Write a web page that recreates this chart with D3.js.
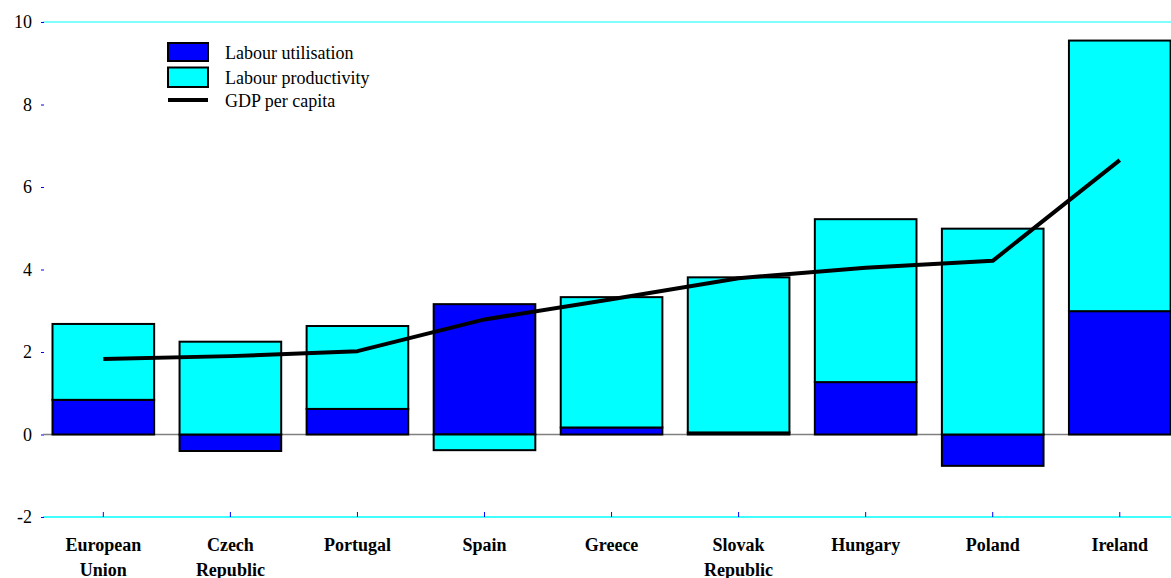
<!DOCTYPE html>
<html><head><meta charset="utf-8">
<script src="https://cdn.jsdelivr.net/npm/d3@7"></script>
<style>body{margin:0;background:#fff;overflow:hidden}svg{display:block}
svg text{font-family:"Liberation Serif","Times New Roman",Times,serif !important;}</style>
</head><body><svg id="c" width="1171" height="578"></svg>
<script>
const categories = [["European","Union"],["Czech","Republic"],["Portugal"],["Spain"],["Greece"],["Slovak","Republic"],["Hungary"],["Poland"],["Ireland"]];
const labourUtilisation = [0.84,-0.40,0.62,3.16,0.17,0.05,1.27,-0.76,2.99];
const labourProductivity = [1.84,2.25,2.01,-0.38,3.16,3.76,3.95,4.99,6.56];
const gdpPerCapita = [1.83,1.90,2.02,2.79,3.28,3.79,4.04,4.21,6.65];
const yTicks = [-2,0,2,4,6,8,10];
const seriesNames = ["Labour utilisation","Labour productivity","GDP per capita"];

const svg = d3.select("#c");
const keys = categories.map(c=>c.join(" "));
const x = d3.scaleBand().domain(keys).range([39.8,1183.3]).paddingInner(0.2).paddingOuter(0.1);
const y = d3.scaleLinear().domain([-2,10]).range([517,22]);
const W = 1171;

svg.append("line").attr("x1",43).attr("x2",W).attr("y1",y(10)).attr("y2",y(10)).attr("stroke","#00FFFF").attr("stroke-width",1);
svg.append("line").attr("x1",43).attr("x2",W).attr("y1",y(-2)).attr("y2",y(-2)).attr("stroke","#00FFFF").attr("stroke-width",1.5);

const yAxis = d3.axisLeft(y).tickValues(yTicks).tickSize(3).tickPadding(9).tickFormat(d=>String(d));
const gy = svg.append("g").attr("transform","translate(44,0)").call(yAxis);
gy.select(".domain").remove();
gy.selectAll(".tick line").attr("stroke","#0000FF");
gy.selectAll(".tick text").attr("font-size",18).attr("fill","#000");

const xAxis = d3.axisTop(x).tickSize(5).tickFormat("");
const gx = svg.append("g").attr("transform",`translate(0,${y(-2)})`).call(xAxis);
gx.select(".domain").remove();
gx.selectAll(".tick line").attr("stroke","#0000FF");

const lab = svg.append("g");
categories.forEach((c,i)=>{
  const cx = x(keys[i])+x.bandwidth()/2;
  const t = lab.append("text").attr("x",cx).attr("y",551)
    .attr("text-anchor","middle").attr("font-weight","bold").attr("font-size",18).attr("fill","#000");
  c.forEach((w,j)=>t.append("tspan").attr("x",cx).attr("dy",j?25:0).text(w));
});

svg.append("line").attr("x1",43).attr("x2",W).attr("y1",y(0)).attr("y2",y(0)).attr("stroke","#808080").attr("stroke-width",1.5);

const table = keys.map((k,i)=>({k, u:labourUtilisation[i], p:labourProductivity[i]}));
const stack = d3.stack().keys(["u","p"]).offset(d3.stackOffsetDiverging);
const colors = {u:"#0000FF", p:"#00FFFF"};
stack(table).forEach(s=>{
  svg.append("g").selectAll("rect").data(s).join("rect")
    .attr("x",d=>x(d.data.k)).attr("width",x.bandwidth())
    .attr("y",d=>y(Math.max(d[0],d[1]))).attr("height",d=>Math.abs(y(d[0])-y(d[1])))
    .attr("fill",colors[s.key]).attr("stroke","#000").attr("stroke-width",2);
});

const line = d3.line().x((d,i)=>x(keys[i])+x.bandwidth()/2).y(d=>y(d));
svg.append("path").datum(gdpPerCapita).attr("d",line).attr("fill","none").attr("stroke","#000").attr("stroke-width",4).attr("stroke-linejoin","round");

const lg = svg.append("g").attr("font-size",18);
lg.append("rect").attr("x",168).attr("y",43).attr("width",40).attr("height",18).attr("fill","#0000FF").attr("stroke","#000").attr("stroke-width",2);
lg.append("rect").attr("x",168).attr("y",67.5).attr("width",40).attr("height",19.5).attr("fill","#00FFFF").attr("stroke","#000").attr("stroke-width",2);
lg.append("line").attr("x1",168).attr("x2",208).attr("y1",100).attr("y2",100).attr("stroke","#000").attr("stroke-width",4);
[59,84,107].forEach((ty,i)=>lg.append("text").attr("x",225).attr("y",ty).attr("fill","#000").text(seriesNames[i]));
</script></body></html>
